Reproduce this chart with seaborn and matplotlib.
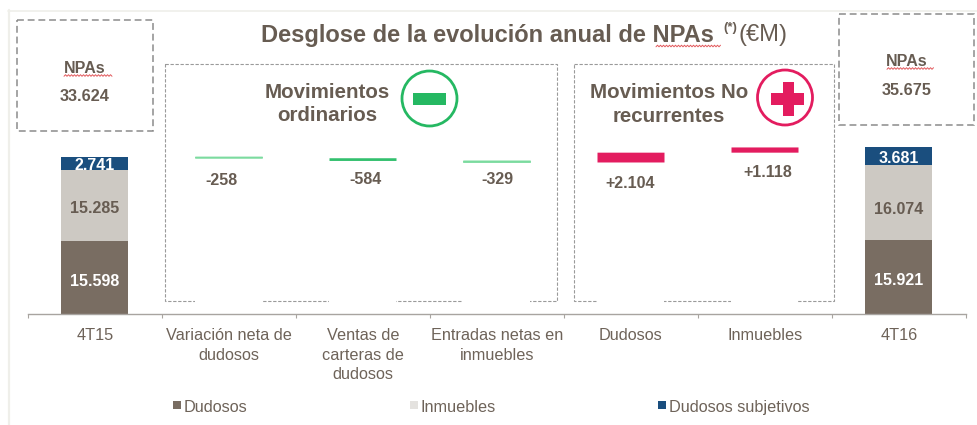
# Desglose de la evolucion anual de NPAs: waterfall chart
import numpy as np
import pandas as pd
import seaborn as sns
import matplotlib.pyplot as plt
from matplotlib.patches import Rectangle, Circle

W, H = 978, 425

# Data
categories = ['4T15', 'Variación neta de\ndudosos', 'Ventas de\ncarteras de\ndudosos',
              'Entradas netas en\ninmuebles', 'Dudosos', 'Inmuebles', '4T16']
dudosos = [15598, 15921]
inmuebles = [15285, 16074]
subjetivos = [2741, 3681]
deltas = [-258, -584, -329, 2104, 1118]
totals_npa = ['33.624', '35.675']

# Offsets of the delta labels, pixels from the bottom of each bar
label_dx = [-8, 3, 0, -1, 2.5]
label_dy = [-22, -19, -17.5, -21.5, -20]
# Vertical nudges of the labels inside the stacks, pixels
nudge = {'dudosos': [-4, -4], 'inmuebles': [-3, -7], 'subjetivos': [-2, -2]}

dark = '#796D62'
light = '#CDC9C3'
blue = '#1A4E7E'
green = '#25B862'
red = '#E31C5F'
text_col = '#675C52'
tick_col = '#6E6359'
delta_cols = ['#7BDB9F', '#33C06E', '#7BDB9F', red, red]

sns.set_style('white')
plt.rcParams['font.family'] = ['Liberation Sans', 'DejaVu Sans']

fig = plt.figure(figsize=(W / 100, H / 100), dpi=100)
fig.patch.set_facecolor('white')

# Background layer in pixel coordinates, under the bars
bg = fig.add_axes([0, 0, 1, 1], zorder=-1)
bg.set_xlim(0, W)
bg.set_ylim(H, 0)
bg.axis('off')

# Main axes, 1 px = 214.2 units
top_px, base_px = 130, 314
ax = fig.add_axes([28 / W, (H - base_px) / H, 938 / W, (base_px - top_px) / H], zorder=1)
ax.patch.set_alpha(0)

# Waterfall table
start = sum(d[0] for d in (dudosos, inmuebles, subjetivos))
running = np.cumsum([start] + deltas)
step_base = np.minimum(running[:-1], running[1:])
step_names = categories[1:-1]

sides = pd.DataFrame({
    'category': [categories[0], categories[-1]],
    'dudosos': dudosos,
    'inmuebles': inmuebles,
    'subjetivos': subjetivos,
})
steps = pd.DataFrame({'category': step_names, 'base': step_base, 'height': np.abs(deltas)})

bar_args = dict(order=categories, width=0.5, saturation=1, errorbar=None, ax=ax, linewidth=0)

# White bases hide the bottom edge of the dashed panels, as in the original
sns.barplot(data=steps, x='category', y='base', color='white', **bar_args)
patches_before = [p for p in ax.patches]
for i, name in enumerate(step_names):
    sns.barplot(x=[name], y=[steps['height'][i]], bottom=[steps['base'][i]],
                color=delta_cols[i], **bar_args)
step_bars = [p for p in ax.patches if p not in patches_before and p.get_height() > 0]
for p in step_bars:
    p.set_snap(False)
    if p.get_height() < 400:
        # the thinnest steps show as a pale hairline
        p.set_edgecolor(p.get_facecolor())
        p.set_linewidth(0.6)

# Stacked side bars
bottom = np.zeros(2)
for col, color, txt in [('dudosos', dark, 'white'), ('inmuebles', light, text_col),
                        ('subjetivos', blue, 'white')]:
    sns.barplot(data=sides, x='category', y=col, bottom=bottom, color=color, **bar_args)
    for j, (xpos, b, v) in enumerate(zip([0, 6], bottom, sides[col])):
        ax.annotate(f'{v:,}'.replace(',', '.'), xy=(xpos, b + v / 2), xytext=(0, nudge[col][j]),
                    textcoords='offset pixels', ha='center', va='center',
                    color=txt, fontsize=11.5, fontweight='bold')
    bottom = bottom + sides[col].values

# Delta labels
for i, d in enumerate(deltas):
    lab = f'{d:+,}'.replace(',', '.')
    ax.annotate(lab, xy=(i + 1, step_base[i]), xytext=(label_dx[i], label_dy[i]),
                textcoords='offset pixels', ha='center', va='center',
                color=text_col, fontsize=11.5, fontweight='bold')

# Axis
ax.set_xlim(-0.5, 6.5)
ax.set_ylim(0, (base_px - top_px) * 214.2)
sns.despine(ax=ax, left=True)
ax.spines['bottom'].set_color('#A8A4A0')
ax.spines['bottom'].set_linewidth(1)
ax.set_yticks([])
ax.set_xlabel('')
ax.set_ylabel('')
ax.set_xticks(np.arange(-0.5, 7, 1))
ax.set_xticklabels([])
ax.tick_params(axis='x', which='major', length=3, width=0.8, color='#A8A4A0', bottom=True)
ax.set_xticks(np.arange(7), labels=categories, minor=True)
ax.tick_params(axis='x', which='minor', length=0, pad=10, labelsize=11.7, labelcolor=tick_col,
               bottom=False)
for lab in ax.get_xticklabels(minor=True):
    lab.set_linespacing(1.4)

# Outer frame lines
bg.plot([8, W], [10.5, 10.5], color='#EFEFEA', lw=1.2)
bg.plot([8.5, 8.5], [10, H], color='#EFEFEA', lw=1.6)


def dashed_box(x0, y0, x1, y1, lw, dashes, color):
    bg.add_patch(Rectangle((x0, y0), x1 - x0, y1 - y0, fill=False, edgecolor=color,
                           linewidth=lw, linestyle=(0, dashes)))


def squiggle(x0, x1, y):
    xs = np.arange(x0, x1 + 1, 1.5)
    ys = y + 0.8 * (-1.0) ** np.arange(len(xs))
    bg.plot(xs, ys, color='#E2595C', lw=0.7)


def say(x, y, s, size, weight='bold', color=text_col, **kw):
    bg.text(x, y + 1, s, fontsize=size, fontweight=weight, color=color, ha=kw.pop('ha', 'center'),
            va='center', **kw)


# Dashed boxes
dashed_box(17, 20, 153, 131, 1.1, (4.5, 2.5), '#8C8C8C')
dashed_box(839, 14, 974, 125, 1.1, (4.5, 2.5), '#8C8C8C')
dashed_box(165, 64, 557, 301, 0.8, (3, 1.5), '#9A9A9A')
dashed_box(574, 64, 834, 301, 0.8, (3, 1.5), '#9A9A9A')

# Title
say(261, 34, 'Desglose de la evolución anual de NPAs', 17, ha='left')
say(723, 27, '(*)', 9.5, ha='left')
say(738.5, 34, '(€M)', 17, weight='normal', ha='left')
squiggle(656, 720, 46)

# NPAs boxes
say(85, 67, 'NPAs', 11.5)
say(85, 95, totals_npa[0], 11.7)
squiggle(64, 112, 75.5)
say(907, 60, 'NPAs', 11.5)
say(907, 89, totals_npa[1], 11.7)
squiggle(887, 933, 68.5)

# Panel headers
say(327, 91, 'Movimientos', 14.8)
say(327, 114, 'ordinarios', 14.8)
say(669, 91, 'Movimientos No', 14.8)
say(669, 115, 'recurrentes', 14.8)

bg.add_patch(Circle((429.5, 98.5), 27.5, fill=False, edgecolor=green, linewidth=2))
bg.add_patch(Rectangle((413, 93), 33, 12, color=green, linewidth=0))
bg.add_patch(Circle((785, 97.5), 27.5, fill=False, edgecolor=red, linewidth=2))
bg.add_patch(Rectangle((771, 93), 33, 12, color=red, linewidth=0))
bg.add_patch(Rectangle((783, 82), 11, 34, color=red, linewidth=0))

# Legend
for x0, color, name, tx in [(173, dark, 'Dudosos', 184), (410, '#E4E2DF', 'Inmuebles', 421),
                            (658, blue, 'Dudosos subjetivos', 669)]:
    bg.add_patch(Rectangle((x0, 401), 7.5, 8, color=color, linewidth=0))
    say(tx, 406.5, name, 11.7, weight='normal', color=tick_col, ha='left')

fig.savefig('out.png', dpi=100)
